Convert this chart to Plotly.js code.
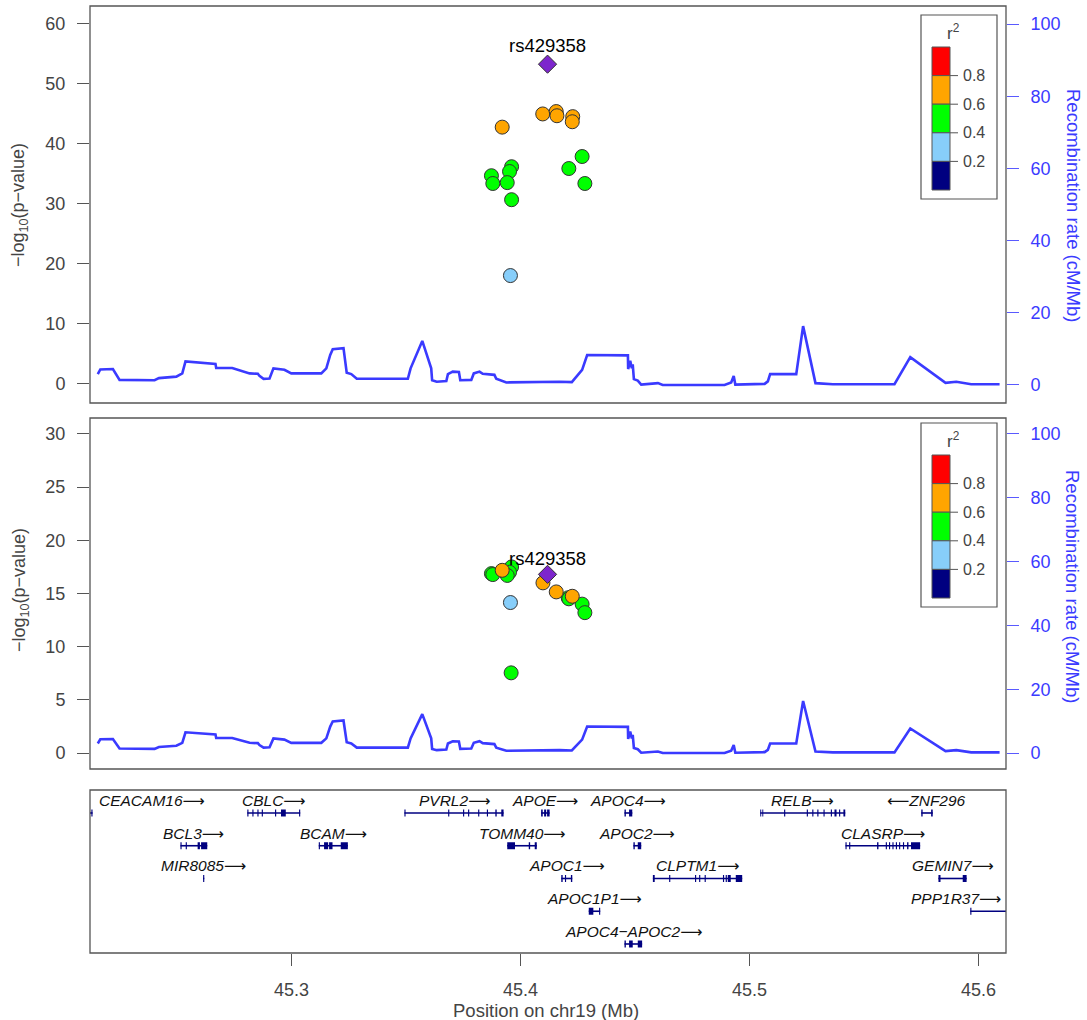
<!DOCTYPE html>
<html><head><meta charset="utf-8">
<script src="https://cdn.plot.ly/plotly-3.0.1.min.js"></script>
<style>html,body{margin:0;padding:0;background:#fff}</style>
</head><body><div id="chart" style="width:1087px;height:1020px"></div>
<script>
// ---------------- DATA ----------------
const leadName = 'rs429358';
const leadPos = 45.4118;
const leadP1 = 53.3;
const leadP2 = 16.8;

// panel 1 SNPs
const snpPos1 = [45.3920, 45.4097, 45.4156, 45.4159, 45.4228, 45.4226, 45.4269, 45.4211, 45.4281, 45.3961, 45.3952, 45.3873, 45.3879, 45.3942, 45.3961, 45.3956];
const snpP1   = [42.8, 45.0, 45.4, 44.7, 44.55, 43.7, 37.9, 35.9, 33.4, 36.2, 35.4, 34.7, 33.4, 33.55, 30.7, 18.05];
const snpR2_1 = [0.7, 0.7, 0.7, 0.7, 0.7, 0.7, 0.5, 0.5, 0.5, 0.5, 0.5, 0.5, 0.5, 0.5, 0.5, 0.3];

// panel 2 SNPs
const snpPos2 = [45.4098, 45.4156, 45.4226, 45.3920, 45.4208, 45.4211, 45.4269, 45.4281, 45.3873, 45.3879, 45.3961, 45.3952, 45.3942, 45.3959, 45.3956];
const snpP2   = [16.0, 15.15, 14.74, 17.18, 14.6, 14.5, 14.0, 13.2, 16.87, 16.78, 17.5, 17.0, 16.7, 7.54, 14.15];
const snpR2_2 = [0.7, 0.7, 0.7, 0.7, 0.5, 0.5, 0.5, 0.5, 0.5, 0.5, 0.5, 0.5, 0.5, 0.5, 0.3];

// recombination rate (cM/Mb)
const recPos = [45.2154, 45.2165, 45.2220, 45.2249, 45.2402, 45.2421, 45.2497, 45.2523, 45.2537, 45.2668,
  45.2671, 45.2741, 45.2817, 45.2853, 45.2860, 45.2878, 45.2904, 45.2921, 45.2969, 45.2999,
  45.3130, 45.3152, 45.3169, 45.3180, 45.3227, 45.3241, 45.3261, 45.3285, 45.3508, 45.3520,
  45.3571, 45.3610, 45.3614, 45.3634, 45.3676, 45.3683, 45.3704, 45.3731, 45.3737, 45.3785,
  45.3796, 45.3821, 45.3835, 45.3886, 45.3894, 45.3938, 45.4170, 45.4224, 45.4269, 45.4291,
  45.4469, 45.4470, 45.4479, 45.4486, 45.4490, 45.4495, 45.4512, 45.4527, 45.4600, 45.4621,
  45.4891, 45.4920, 45.4931, 45.4938, 45.5066, 45.5080, 45.5090, 45.5204, 45.5234, 45.5288,
  45.5364, 45.5633, 45.5702, 45.5856, 45.5903, 45.5968, 45.6092];
const recRate = [3.0, 4.3, 4.4, 1.4, 1.3, 1.9, 2.3, 3.2, 6.5, 5.8,
  4.7, 4.7, 3.2, 3.1, 2.5, 1.7, 1.8, 4.6, 4.2, 3.2,
  3.2, 4.6, 8.3, 9.9, 10.2, 3.4, 3.0, 1.7, 1.7, 4.6,
  12.2, 4.6, 1.3, 0.9, 1.1, 3.0, 3.7, 3.6, 1.3, 1.4,
  3.2, 3.7, 3.1, 2.8, 1.7, 0.7, 0.9, 0.8, 4.2, 8.3,
  8.2, 4.4, 6.7, 4.6, 5.7, 1.6, 1.2, 0.1, 0.5, 0.0,
  0.0, 0.7, 2.5, 0.1, 0.3, 1.0, 3.0, 3.0, 16.3, 0.5,
  0.2, 0.2, 7.7, 0.6, 0.9, 0.2, 0.2];

// genes
const geneNames  = ['CEACAM16','CBLC','PVRL2','APOE','APOC4','RELB','ZNF296',
                    'BCL3','BCAM','TOMM40','APOC2','CLASRP',
                    'MIR8085','APOC1','CLPTM1','GEMIN7',
                    'APOC1P1','PPP1R37',
                    'APOC4\u2212APOC2'];
const geneRow    = [1,1,1,1,1,1,1, 2,2,2,2,2, 3,3,3,3, 4,4, 5];
const geneStrand = [1,1,1,1,1,1,-1, 1,1,1,1,1, 1,1,1,1, 1,1, 1];
const geneStart  = [45.2050,45.2807,45.3493,45.4090,45.4454,45.5047,45.5750,
                    45.2515,45.3119,45.3942,45.4493,45.5419,
                    45.2614,45.4178,45.4578,45.5825,
                    45.4298,45.5964,
                    45.4454];
const geneEnd    = [45.2131,45.3038,45.3926,45.4127,45.4488,45.5418,45.5800,
                    45.2632,45.3246,45.4071,45.4527,45.5745,
                    45.2619,45.4226,45.4968,45.5948,
                    45.4348,45.6300,
                    45.4531];
const geneExons = [
  [[45.2126,45.2131]],
  [[45.2807,45.2812],[45.2829,45.2834],[45.2851,45.2856],[45.2870,45.2875],[45.2928,45.2933],[45.2954,45.2975],[45.3033,45.3038]],
  [[45.3493,45.3498],[45.3684,45.3689],[45.3749,45.3754],[45.3771,45.3776],[45.3815,45.3820],[45.3853,45.3858],[45.3890,45.3896],[45.3916,45.3926]],
  [[45.4090,45.4097],[45.4103,45.4112],[45.4116,45.4127]],
  [[45.4454,45.4460],[45.4474,45.4488]],
  [[45.5047,45.5051],[45.5056,45.5060],[45.5151,45.5156],[45.5250,45.5255],[45.5274,45.5279],[45.5296,45.5301],[45.5323,45.5328],[45.5355,45.5360],[45.5371,45.5380],[45.5391,45.5396],[45.5410,45.5418]],
  [[45.5750,45.5756],[45.5793,45.5800]],
  [[45.2515,45.2520],[45.2538,45.2543],[45.2590,45.2600],[45.2605,45.2632]],
  [[45.3119,45.3124],[45.3142,45.3160],[45.3164,45.3179],[45.3215,45.3246]],
  [[45.3942,45.3976],[45.4036,45.4042],[45.4062,45.4071]],
  [[45.4493,45.4499],[45.4512,45.4527]],
  [[45.5419,45.5424],[45.5435,45.5440],[45.5557,45.5563],[45.5595,45.5600],[45.5609,45.5614],[45.5624,45.5629],[45.5639,45.5644],[45.5653,45.5658],[45.5670,45.5675],[45.5688,45.5694],[45.5705,45.5745]],
  [[45.2614,45.2619]],
  [[45.4178,45.4184],[45.4194,45.4199],[45.4220,45.4226]],
  [[45.4578,45.4586],[45.4649,45.4654],[45.4762,45.4767],[45.4780,45.4785],[45.4804,45.4809],[45.4884,45.4889],[45.4896,45.4901],[45.4905,45.4918],[45.4940,45.4968]],
  [[45.5825,45.5834],[45.5931,45.5948]],
  [[45.4298,45.4318],[45.4343,45.4348]],
  [[45.5964,45.5969]],
  [[45.4454,45.4460],[45.4474,45.4490],[45.4512,45.4531]]
];

// legend
const r2Breaks = ['0.2','0.4','0.6','0.8'];
const r2Colors = ['#000080','#87CEFA','#00FF00','#FFA500','#FF0000']; // low -> high
const leadColor = '#7D26CD';
const xTicks = [45.3, 45.4, 45.5, 45.6];
const xTickText = ['45.3','45.4','45.5','45.6'];

// ---------------- LAYOUT HELPERS ----------------
const FW = 1087, FH = 1020;
const M = {l:90, r:81, t:6, b:67};
const W = FW - M.l - M.r, H = FH - M.t - M.b;
const PX = p => (p - M.l) / W;
const PY = p => (FH - M.b - p) / H;
const xRange = [45.212, 45.612];
const FONT = 'Liberation Sans, Arial, Helvetica, sans-serif';
const GRAY = '#444';
const BLUE = '#3B3BFF';

function r2Color(v){
  const idx = Math.min(4, Math.floor(v / 0.2));
  return r2Colors[idx];
}
function sortedIdx(r2){ return r2.map((v,i)=>i).sort((a,b)=>r2[a]-r2[b]); }

function snpTrace(pos, p, r2, xa, ya){
  const o = sortedIdx(r2);
  return {type:'scatter', mode:'markers', xaxis:xa, yaxis:ya,
    x:o.map(i=>pos[i]), y:o.map(i=>p[i]),
    marker:{size:14, color:o.map(i=>r2Color(r2[i])), line:{color:'#333', width:1}},
    hoverinfo:'skip', showlegend:false};
}
function leadTrace(p, xa, ya){
  return {type:'scatter', mode:'markers', xaxis:xa, yaxis:ya, x:[leadPos], y:[p],
    marker:{symbol:'diamond', size:14, color:leadColor, line:{color:'#333', width:1}},
    hoverinfo:'skip', showlegend:false};
}
function recTrace(xa, ya){
  return {type:'scatter', mode:'lines', xaxis:xa, yaxis:ya, x:recPos, y:recRate,
    line:{color:'#3A3AFF', width:2.6}, hoverinfo:'skip', showlegend:false};
}

// genes
const gLineX=[], gLineY=[], gExX=[], gExY=[];
geneNames.forEach((n,i)=>{
  gLineX.push(geneStart[i], geneEnd[i], null); gLineY.push(geneRow[i], geneRow[i], null);
  geneExons[i].forEach(e=>{ gExX.push(e[0], e[1], null); gExY.push(geneRow[i], geneRow[i], null); });
});
const GENE_COL = '#000080';

const data = [
  recTrace('x','y'),
  snpTrace(snpPos1, snpP1, snpR2_1, 'x','y2'),
  leadTrace(leadP1, 'x','y2'),
  recTrace('x2','y3'),
  snpTrace(snpPos2, snpP2, snpR2_2, 'x2','y4'),
  leadTrace(leadP2, 'x2','y4'),
  {type:'scatter', mode:'lines', xaxis:'x3', yaxis:'y5', x:gLineX, y:gLineY,
   line:{color:GENE_COL, width:1.6}, hoverinfo:'skip', showlegend:false, connectgaps:false},
  {type:'scatter', mode:'lines', xaxis:'x3', yaxis:'y5', x:gExX, y:gExY,
   line:{color:GENE_COL, width:7}, hoverinfo:'skip', showlegend:false, connectgaps:false}
];

const domTop = [PY(403), 1];
const domMid = [PY(769), PY(418)];
const domGene = [0, PY(790)];

const leftAxis = (range, tv) => ({range:range, tickvals:tv, ticks:'outside', ticklen:12, tickwidth:1,
  tickcolor:'#555', tickfont:{size:18, color:GRAY, family:FONT}, showgrid:false, zeroline:false,
  showline:false, ticklabelstandoff:8});
const rightAxis = (dom, anchor) => ({domain:dom, anchor:anchor, side:'right', range:[-5,105],
  tickvals:[0,20,40,60,80,100], ticks:'outside', ticklen:12, tickwidth:1, tickcolor:'#5A5AFF',
  tickfont:{size:18, color:BLUE, family:FONT}, showgrid:false, zeroline:false, showline:false,
  ticklabelstandoff:8});
const hiddenX = anchor => ({domain:[0,1], range:xRange, anchor:anchor, showticklabels:false, ticks:'',
  showgrid:false, zeroline:false, showline:false});

const shapes = [
  {type:'rect', xref:'x domain', yref:'y domain', x0:0,x1:1,y0:0,y1:1, line:{color:'#555', width:1.3}},
  {type:'rect', xref:'x2 domain', yref:'y3 domain', x0:0,x1:1,y0:0,y1:1, line:{color:'#555', width:1.3}},
  {type:'rect', xref:'x3 domain', yref:'y5 domain', x0:0,x1:1,y0:0,y1:1, line:{color:'#555', width:1.3}}
];
const annotations = [];

// legends (r^2 colour key)
[15, 423].forEach(top=>{
  shapes.push({type:'rect', xref:'paper', yref:'paper', x0:PX(921), x1:PX(997), y0:PY(top+184), y1:PY(top),
    line:{color:'#555', width:1.2}, fillcolor:'#fff', layer:'above'});
  const bh = 28.6, b0 = top + 32;
  for(let k=0;k<5;k++){
    const col = r2Colors[4-k];
    shapes.push({type:'rect', xref:'paper', yref:'paper', x0:PX(932), x1:PX(950),
      y0:PY(b0 + bh*(k+1)), y1:PY(b0 + bh*k), fillcolor:col, line:{color:'#555', width:1}, layer:'above'});
  }
  for(let k=1;k<5;k++){
    const yy = b0 + bh*k;
    shapes.push({type:'line', xref:'paper', yref:'paper', x0:PX(950), x1:PX(958), y0:PY(yy), y1:PY(yy),
      line:{color:'#555', width:1}, layer:'above'});
    annotations.push({xref:'paper', yref:'paper', x:PX(961), y:PY(yy), xanchor:'left', yanchor:'middle',
      text:r2Breaks[4-k], showarrow:false, font:{size:16, color:GRAY, family:FONT}});
  }
  annotations.push({xref:'paper', yref:'paper', x:PX(953), y:PY(top+17), xanchor:'center', yanchor:'middle',
    text:'r<sup>2</sup>', showarrow:false, font:{size:17, color:GRAY, family:FONT}});
});

// lead labels
annotations.push({xref:'x', yref:'y2', x:leadPos, y:leadP1, yshift:19, text:leadName, showarrow:false,
  font:{size:18.5, color:'#000', family:FONT}});
annotations.push({xref:'x2', yref:'y4', x:leadPos, y:leadP2, yshift:16, text:leadName, showarrow:false,
  font:{size:18.5, color:'#000', family:FONT}});

// gene labels
const ARW_R = '<span style="font-family:DejaVu Sans">\u27F6</span>';
const ARW_L = '<span style="font-family:DejaVu Sans">\u27F5</span>';
geneNames.forEach((n,i)=>{
  const txt = (geneStrand[i]<0 ? ARW_L : '') + '<i>' + n + '</i>' + (geneStrand[i]>0 ? ARW_R : '');
  let x = (geneStart[i]+geneEnd[i])/2, xa='center', xs=0;
  if(geneStart[i] < xRange[0]){ x = xRange[0]; xa='left'; xs=7; }
  else if(geneEnd[i] > xRange[1]){ x = xRange[1]; xa='right'; xs=-3; }
  annotations.push({xref:'x3', yref:'y5', x:x, y:geneRow[i], xanchor:xa, xshift:xs, yshift:12,
    yanchor:'middle', text:txt, showarrow:false, font:{size:15.5, color:'#111', family:FONT}});
});

// axis titles
const leftTitle = '\u2212log<sub>10</sub>(p\u2212value)';
const rightTitle = 'Recombination rate (cM/Mb)';
[[205],[590]].forEach(([cy])=>{
  annotations.push({xref:'paper', yref:'paper', x:PX(20), y:PY(cy), textangle:-90, text:leftTitle,
    showarrow:false, xanchor:'center', yanchor:'middle', font:{size:18, color:GRAY, family:FONT}});
});
[[205],[586]].forEach(([cy])=>{
  annotations.push({xref:'paper', yref:'paper', x:PX(1073), y:PY(cy), textangle:90, text:rightTitle,
    showarrow:false, xanchor:'center', yanchor:'middle', font:{size:18.5, color:BLUE, family:FONT}});
});
annotations.push({xref:'paper', yref:'paper', x:PX(546), y:PY(1010), text:'Position on chr19 (Mb)',
  showarrow:false, xanchor:'center', yanchor:'middle', font:{size:18.5, color:GRAY, family:FONT}});

const layout = {
  width:FW, height:FH, margin:M, paper_bgcolor:'#fff', plot_bgcolor:'rgba(0,0,0,0)',
  font:{family:FONT, color:GRAY}, showlegend:false,
  xaxis: hiddenX('y'),
  xaxis2: Object.assign(hiddenX('y3'), {matches:'x'}),
  xaxis3: {domain:[0,1], range:xRange, anchor:'y5', tickvals:xTicks, ticktext:xTickText, ticks:'outside',
    ticklen:12, tickwidth:1, tickcolor:'#555', tickfont:{size:18, color:GRAY, family:FONT},
    showgrid:false, zeroline:false, showline:false, ticklabelstandoff:8},
  yaxis: rightAxis(domTop, 'x'),
  yaxis2: Object.assign(leftAxis([-3.2,63],[0,10,20,30,40,50,60]), {overlaying:'y', side:'left', anchor:'x'}),
  yaxis3: rightAxis(domMid, 'x2'),
  yaxis4: Object.assign(leftAxis([-1.5,31.5],[0,5,10,15,20,25,30]), {overlaying:'y3', side:'left', anchor:'x2'}),
  yaxis5: {domain:domGene, anchor:'x3', range:[5.275,0.298], visible:false, showgrid:false, zeroline:false},
  shapes:shapes, annotations:annotations
};

Plotly.newPlot('chart', data, layout, {staticPlot:true, displayModeBar:false});
</script></body></html>
